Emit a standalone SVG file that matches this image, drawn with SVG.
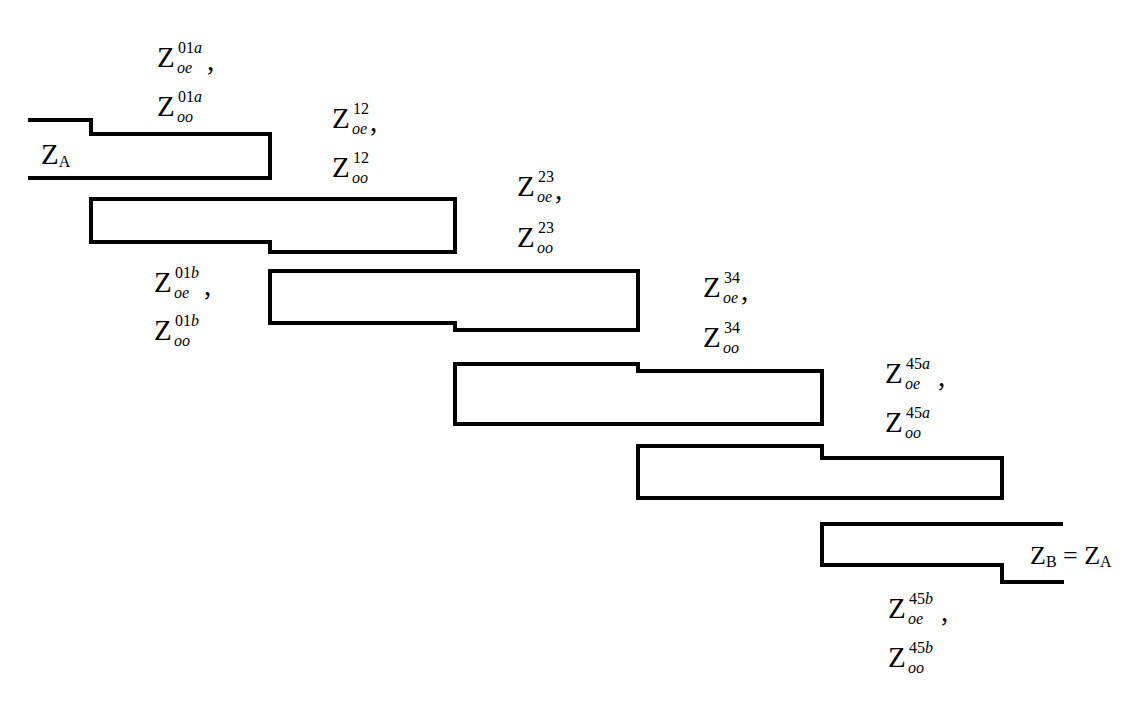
<svg xmlns="http://www.w3.org/2000/svg" width="1140" height="701" viewBox="0 0 1140 701">
<style>
.ln{fill:none;stroke:#000;stroke-width:4;stroke-linejoin:miter}
text{font-family:"Liberation Serif","Times New Roman",serif;fill:#000}
.z{font-size:29px}
.s{font-size:16px}
.i{font-style:italic}
</style>
<rect width="1140" height="701" fill="#fff"/>
<g id="connectors">
<path id="line0" class="ln" d="M28,120 H91 V134 H270 V178 H28"/>
<path id="line1" class="ln" d="M91,199 H455 V252 H270 V242 H91 Z"/>
<path id="line2" class="ln" d="M270,271 H638 V330 H455 V323 H270 Z"/>
<path id="line3" class="ln" d="M455,364 H638 V371 H822 V424 H455 Z"/>
<path id="line4" class="ln" d="M638,446 H822 V458 H1002 V498 H638 Z"/>
<path id="line5" class="ln" d="M1063,524 H822 V565 H1002 V582 H1064"/>
</g>
<g id="labels">
<g id="za"><text x="41" y="164" class="z" font-size="26">Z<tspan class="s" dy="3">A</tspan></text></g>
<g id="zb"><text x="1030" y="564" font-size="26">Z<tspan class="s" dy="3">B</tspan><tspan dy="-3"> = Z</tspan><tspan class="s" dy="3">A</tspan></text></g>

<g id="l01a">
<text x="157" y="67" class="z">Z</text><text x="178" y="53" class="s">01<tspan class="i">a</tspan></text><text x="177" y="73" class="s i">oe</text><text x="207" y="70" class="z">,</text>
<text x="157" y="116" class="z">Z</text><text x="178" y="102" class="s">01<tspan class="i">a</tspan></text><text x="177" y="122" class="s i">oo</text>
</g>
<g id="l12">
<text x="332" y="128" class="z">Z</text><text x="353" y="114" class="s">12</text><text x="352" y="134" class="s i">oe</text><text x="370" y="131" class="z">,</text>
<text x="332" y="177" class="z">Z</text><text x="353" y="163" class="s">12</text><text x="352" y="183" class="s i">oo</text>
</g>
<g id="l23">
<text x="517" y="196" class="z">Z</text><text x="538" y="182" class="s">23</text><text x="537" y="202" class="s i">oe</text><text x="555" y="199" class="z">,</text>
<text x="517" y="247" class="z">Z</text><text x="538" y="233" class="s">23</text><text x="537" y="253" class="s i">oo</text>
</g>
<g id="l01b">
<text x="154" y="292" class="z">Z</text><text x="175" y="278" class="s">01<tspan class="i">b</tspan></text><text x="174" y="298" class="s i">oe</text><text x="204" y="295" class="z">,</text>
<text x="154" y="340" class="z">Z</text><text x="175" y="326" class="s">01<tspan class="i">b</tspan></text><text x="174" y="346" class="s i">oo</text>
</g>
<g id="l34">
<text x="703" y="297" class="z">Z</text><text x="724" y="283" class="s">34</text><text x="723" y="303" class="s i">oe</text><text x="741" y="300" class="z">,</text>
<text x="703" y="347" class="z">Z</text><text x="724" y="333" class="s">34</text><text x="723" y="353" class="s i">oo</text>
</g>
<g id="l45a">
<text x="885" y="383" class="z">Z</text><text x="906" y="369" class="s">45<tspan class="i">a</tspan></text><text x="905" y="389" class="s i">oe</text><text x="938" y="386" class="z">,</text>
<text x="885" y="432" class="z">Z</text><text x="906" y="418" class="s">45<tspan class="i">a</tspan></text><text x="905" y="438" class="s i">oo</text>
</g>
<g id="l45b">
<text x="888" y="618" class="z">Z</text><text x="909" y="604" class="s">45<tspan class="i">b</tspan></text><text x="908" y="624" class="s i">oe</text><text x="941" y="621" class="z">,</text>
<text x="888" y="667" class="z">Z</text><text x="909" y="653" class="s">45<tspan class="i">b</tspan></text><text x="908" y="673" class="s i">oo</text>
</g>
</g>
</svg>
